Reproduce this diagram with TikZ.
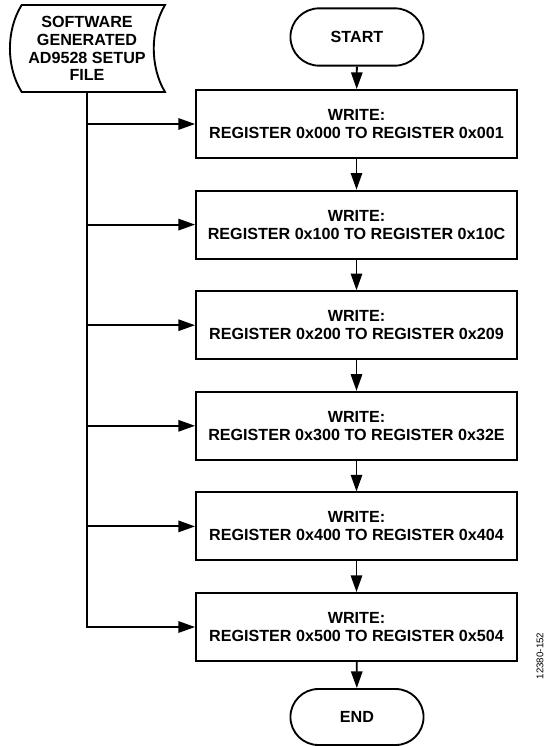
\documentclass[tikz,border=0pt]{standalone}
\usepackage{fontspec}
\setmainfont{Liberation Sans}
\usetikzlibrary{positioning, arrows.meta, shapes.misc}

\begin{document}
\begin{tikzpicture}[x=0.75pt, y=-0.75pt, >={Triangle[length=12.5pt, width=8.5pt]},
    font=\fontsize{12.1}{13.4}\selectfont\bfseries,
    line/.style={line width=1.4pt},
    terminal/.style={rounded rectangle, draw, line width=1.4pt, minimum width=106.5pt, minimum height=43pt},
    writebox/.style={rectangle, draw, line width=1.4pt, align=center, minimum width=240.75pt, minimum height=51pt}]
  \useasboundingbox (0,0) rectangle (545,746);
  % setup file
  \draw[line] (21.7,5) -- (165,5) .. controls (150,30) and (150,67) .. (165,92)
    -- (21.7,92) .. controls (6,67) and (6,30) .. (21.7,5) -- cycle;
  \node[align=center, minimum height=65.25pt, inner sep=0pt] (file) at (87,48.5)
    {SOFTWARE\\GENERATED\\AD9528 SETUP\\FILE};
  % flow
  \node[terminal] (start) at (357,37)  {START};
  \node[writebox] (w1) at (356.5,124)   {WRITE:\\REGISTER 0x000 TO REGISTER 0x001};
  \node[writebox] (w2) at (356.5,224.6) {WRITE:\\REGISTER 0x100 TO REGISTER 0x10C};
  \node[writebox] (w3) at (356.5,325.2) {WRITE:\\REGISTER 0x200 TO REGISTER 0x209};
  \node[writebox] (w4) at (356.5,425.8) {WRITE:\\REGISTER 0x300 TO REGISTER 0x32E};
  \node[writebox] (w5) at (356.5,526.4) {WRITE:\\REGISTER 0x400 TO REGISTER 0x404};
  \node[writebox] (w6) at (356.5,627)   {WRITE:\\REGISTER 0x500 TO REGISTER 0x504};
  \node[terminal, minimum height=42pt] (end) at (357,717) {END};
  \draw[->, line] (start) -- (w1);
  \draw[->, line] (w1) -- (w2);
  \draw[->, line] (w2) -- (w3);
  \draw[->, line] (w3) -- (w4);
  \draw[->, line] (w4) -- (w5);
  \draw[->, line] (w5) -- (w6);
  \draw[->, line] (w6) -- (end);
  % branches from the file
  \draw[->, line] (file.south) |- (w6.west);
  \draw[->, line] (file.south |- w1.west) -- (w1.west);
  \draw[->, line] (file.south |- w2.west) -- (w2.west);
  \draw[->, line] (file.south |- w3.west) -- (w3.west);
  \draw[->, line] (file.south |- w4.west) -- (w4.west);
  \draw[->, line] (file.south |- w5.west) -- (w5.west);
  \node[rotate=90, font=\fontsize{7.3}{8}\selectfont] (figno) at (540,656) {12380-152};
\end{tikzpicture}
\end{document}
